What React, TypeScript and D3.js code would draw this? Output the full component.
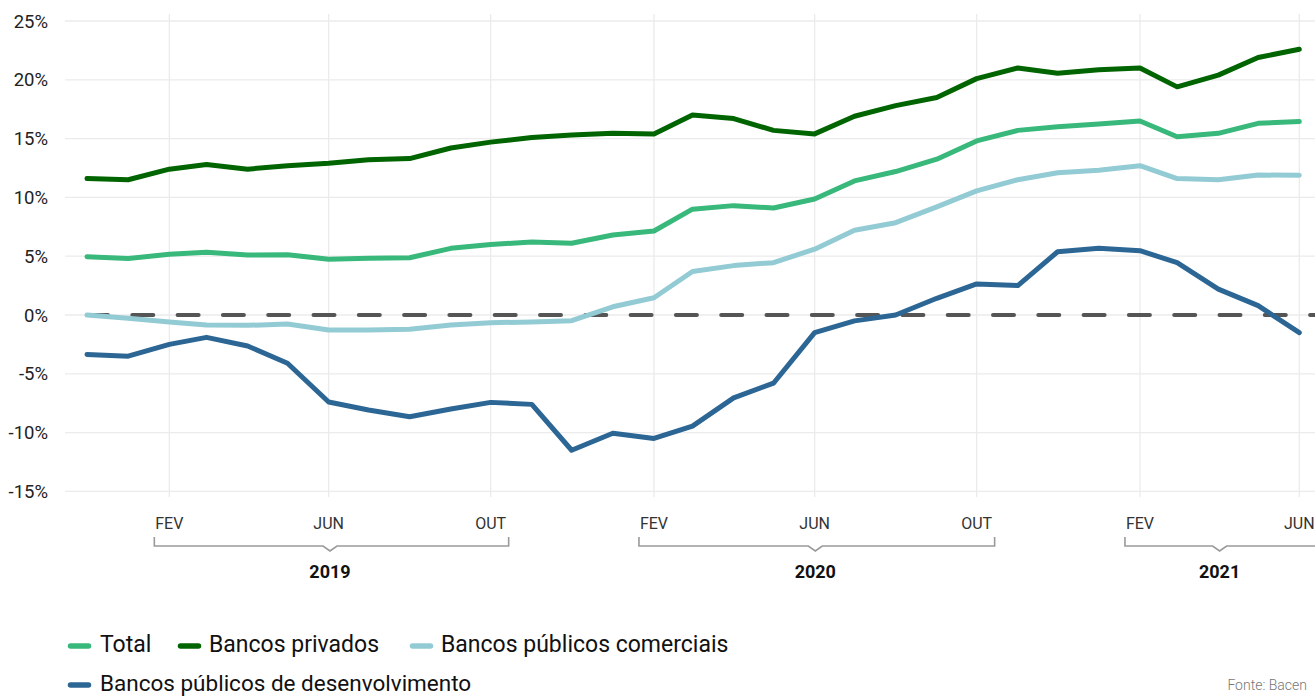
import React from "react";
import * as d3 from "d3";

const months = [
  "2018-12","2019-01","2019-02","2019-03","2019-04","2019-05","2019-06","2019-07","2019-08","2019-09","2019-10","2019-11",
  "2019-12","2020-01","2020-02","2020-03","2020-04","2020-05","2020-06","2020-07","2020-08","2020-09","2020-10","2020-11",
  "2020-12","2021-01","2021-02","2021-03","2021-04","2021-05","2021-06",
];

const total = [4.96,4.8,5.16,5.33,5.1,5.13,4.75,4.82,4.87,5.67,6.0,6.2,6.1,6.8,7.14,9.0,9.3,9.1,9.86,11.4,12.2,13.25,14.8,15.7,16.0,16.25,16.5,15.16,15.45,16.3,16.45];
const privados = [11.6,11.5,12.4,12.8,12.4,12.7,12.9,13.2,13.3,14.2,14.7,15.1,15.3,15.45,15.4,17.0,16.7,15.7,15.4,16.9,17.8,18.5,20.1,21.0,20.55,20.85,21.0,19.4,20.4,21.9,22.6];
const comerciais = [0,-0.28,-0.6,-0.85,-0.88,-0.77,-1.28,-1.28,-1.22,-0.85,-0.65,-0.6,-0.48,0.7,1.47,3.7,4.2,4.45,5.6,7.2,7.85,9.2,10.55,11.5,12.1,12.3,12.7,11.6,11.5,11.9,11.88];
const desenvolvimento = [-3.35,-3.5,-2.5,-1.9,-2.64,-4.1,-7.4,-8.08,-8.65,-8.0,-7.43,-7.6,-11.5,-10.06,-10.5,-9.45,-7.05,-5.8,-1.5,-0.5,0,1.42,2.64,2.5,5.38,5.67,5.47,4.45,2.2,0.8,-1.5];

const yTicks = [25, 20, 15, 10, 5, 0, -5, -10, -15];
const xTickMonths = ["2019-02","2019-06","2019-10","2020-02","2020-06","2020-10","2021-02","2021-06"];
const xTickLabels = ["FEV","JUN","OUT","FEV","JUN","OUT","FEV","JUN"];
const years = ["2019", "2020", "2021"];
const yearStart = ["2019-02", "2020-02", "2021-02"];
const yearEnd = ["2019-10", "2020-10", "2021-06"];

const seriesNames = ["Total", "Bancos privados", "Bancos públicos comerciais", "Bancos públicos de desenvolvimento"];
const seriesColors = ["#38b87a", "#006400", "#93cbd4", "#2c6694"];
const seriesData = [total, privados, comerciais, desenvolvimento];

const parse = d3.timeParse("%Y-%m");
const FONT = "Roboto, 'Noto Sans', sans-serif";

export default function App() {
  const W = 1315, H = 697;
  const dates = months.map((m) => parse(m) as Date);
  const x = d3.scaleTime().domain([dates[0], dates[dates.length - 1]]).range([87, 1299.3]);
  const y = d3.scaleLinear().domain([-15, 25]).range([491.4, 21]);

  const line = d3
    .line<number>()
    .x((_, i) => x(dates[i]))
    .y((d) => y(d));

  const legendLayout = [
    { mx: 68, tx: 100, ty: 652, my: 646 },
    { mx: 178, tx: 209, ty: 652, my: 646 },
    { mx: 410, tx: 441, ty: 652, my: 646 },
    { mx: 68, tx: 100, ty: 691, my: 685 },
  ];

  return (
    <svg width={W} height={H} style={{ position: "absolute", left: 0, top: 0 }} fontFamily={FONT}>
      <rect width={W} height={H} fill="#fff" />
      {yTicks.map((t) => (
        <line key={"h" + t} x1={65} x2={W} y1={y(t)} y2={y(t)} stroke="#ebebeb" strokeWidth={1.3} />
      ))}
      {xTickMonths.map((m) => {
        const xx = x(parse(m) as Date);
        return <line key={"v" + m} x1={xx} x2={xx} y1={14} y2={497} stroke="#ebebeb" strokeWidth={1.3} />;
      })}
      {yTicks.map((t) => (
        <text key={"yl" + t} x={48} y={y(t)} dy="0.36em" textAnchor="end" fontSize={18.5} fill="#222">
          {t + "%"}
        </text>
      ))}
      <line
        x1={x(dates[0])}
        x2={1340}
        y1={y(0)}
        y2={y(0)}
        stroke="#555"
        strokeWidth={4}
        strokeDasharray="21 24.3"
        strokeLinecap="round"
      />
      {seriesData.map((s, k) => (
        <path
          key={seriesNames[k]}
          d={line(s) || ""}
          fill="none"
          stroke={seriesColors[k]}
          strokeWidth={5}
          strokeLinejoin="round"
          strokeLinecap="round"
        />
      ))}
      {xTickMonths.map((m, i) => (
        <text key={"xl" + i} x={x(parse(m) as Date)} y={529} textAnchor="middle" fontSize={16} fill="#333">
          {xTickLabels[i]}
        </text>
      ))}
      {years.map((yr, i) => {
        const xs = x(parse(yearStart[i]) as Date);
        const xe = x(parse(yearEnd[i]) as Date);
        const x0 = xs - 15;
        const x1 = yr === "2021" ? 1316 : xe + 18;
        const c = (xs + xe) / 2;
        const top = 537, base = 546;
        const d = `M${x0},${top}V${base}H${c - 7}L${c},${base + 5}L${c + 7},${base}H${x1}${yr === "2021" ? "" : `V${top}`}`;
        return (
          <g key={yr}>
            <path d={d} fill="none" stroke="#9a9a9a" strokeWidth={1.6} />
            <text x={c} y={578} textAnchor="middle" fontSize={18} fontWeight={700} fill="#111">
              {yr}
            </text>
          </g>
        );
      })}
      {seriesNames.map((n, k) => {
        const L = legendLayout[k];
        return (
          <g key={"lg" + n}>
            <line x1={L.mx + 2.5} x2={L.mx + 20.5} y1={L.my} y2={L.my} stroke={seriesColors[k]} strokeWidth={5.5} strokeLinecap="round" />
            <text x={L.tx} y={L.ty} fontSize={k === 3 ? 22.5 : 23} fill="#111">
              {n}
            </text>
          </g>
        );
      })}
      <text x={1307} y={690} textAnchor="end" fontSize={14} fontWeight={300} fill="#777">
        Fonte: Bacen
      </text>
    </svg>
  );
}
